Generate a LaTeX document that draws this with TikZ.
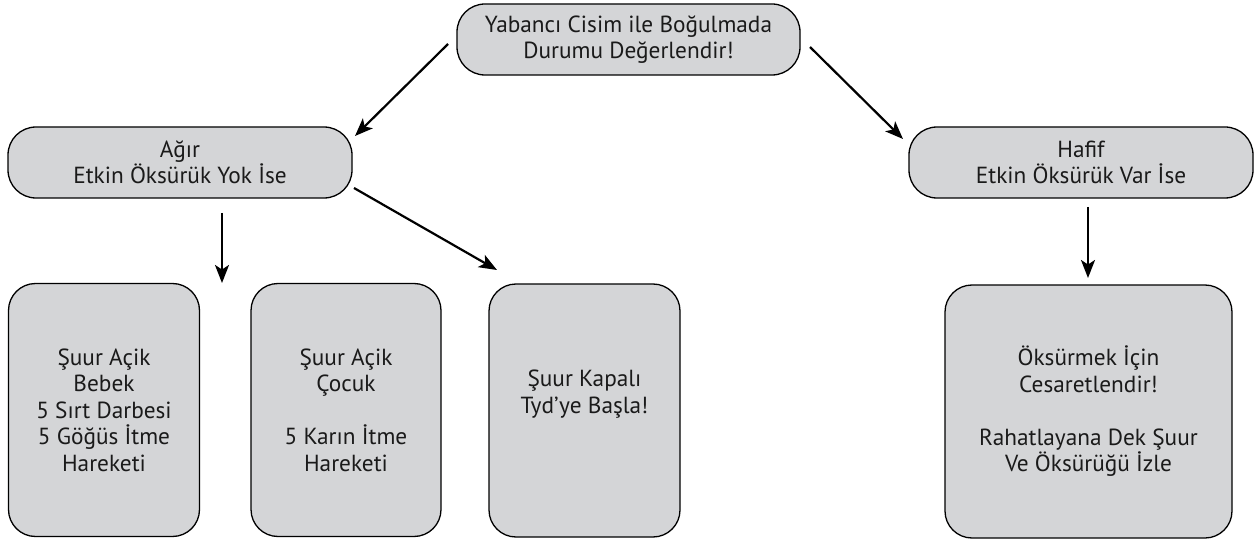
\documentclass[tikz,border=0pt]{standalone}
\usepackage{fontspec}
\setmainfont{PT Sans}
\usetikzlibrary{arrows.meta}
\definecolor{boxfill}{HTML}{D4D5D7}
\definecolor{txt}{HTML}{1A1A1A}
\begin{document}
\begin{tikzpicture}[x=1pt,y=-1pt,
  lbl/.style={text=txt, align=center, font=\fontsize{23.3}{26.5}\selectfont, inner sep=0pt},
  box/.style={lbl, draw=black, line width=1.3pt, fill=boxfill},
  pill/.style={box, rounded corners=28pt, minimum width=344pt, minimum height=71pt},
  tall/.style={box, rounded corners=27pt, minimum height=253pt},
  arr/.style={line width=2.2pt, -{Stealth[length=18pt,width=14pt,inset=4.5pt]}}]
\useasboundingbox (0,0) rectangle (1256,540);

\node[pill, minimum width=343pt] (top) at (628.5,39.5) {Yabancı Cisim ile Boğulmada\\Durumu Değerlendir!};
\node[pill] (agir) at (180,162.5) {Ağır\\Etkin Öksürük Yok İse};
\node[pill] (hafif) at (1081,162.5) {Hafif\\Etkin Öksürük Var İse};

\node[tall, minimum width=191pt] (b1) at (104,410) {Şuur Açik\\Bebek\\5 Sırt Darbesi\\5 Göğüs İtme\\Hareketi};
\node[tall, minimum width=190pt] (b2) at (346,410) {Şuur Açik\\Çocuk\\[26.5pt]5 Karın İtme\\Hareketi};
\node[tall, minimum width=191pt] (b3) at (584.5,410.5) {};
\node[lbl] (b3t) at (584.5,394) {Şuur Kapalı\\Tyd’ye Başla!};
\node[tall, minimum width=287pt] (b4) at (1088.5,411.5) {Öksürmek İçin\\Cesaretlendir!\\[26.5pt]Rahatlayana Dek Şuur\\Ve Öksürüğü İzle};

\coordinate (a1s) at (448,44);  \coordinate (a1e) at (355,136);
\coordinate (a2s) at (810,47);  \coordinate (a2e) at (903,139);
\coordinate (a3s) at (222,213); \coordinate (a3e) at (222,283);
\coordinate (a4s) at (354,188); \coordinate (a4e) at (497,270);
\coordinate (a5s) at (1088,207); \coordinate (a5e) at (1088,278);

\draw[arr] (a1s) -- (a1e);
\draw[arr] (a2s) -- (a2e);
\draw[arr] (a3s) -- (a3e);
\draw[arr] (a4s) -- (a4e);
\draw[arr] (a5s) -- (a5e);
\end{tikzpicture}
\end{document}
